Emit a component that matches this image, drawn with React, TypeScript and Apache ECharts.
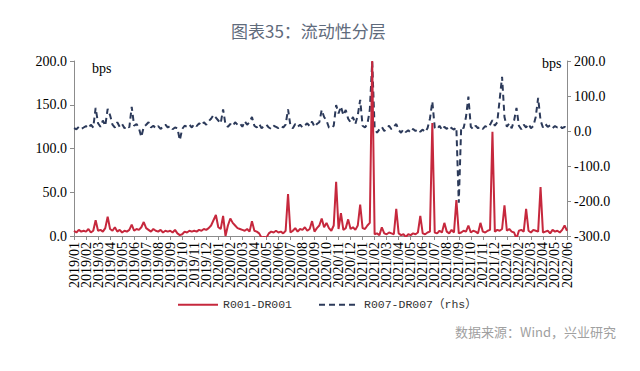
import React, { useEffect, useRef } from "react";
import * as echarts from "echarts";

const months: string[] = [
  "2019/01","2019/02","2019/03","2019/04","2019/05","2019/06","2019/07","2019/08","2019/09","2019/10","2019/11","2019/12",
  "2020/01","2020/02","2020/03","2020/04","2020/05","2020/06","2020/07","2020/08","2020/09","2020/10","2020/11","2020/12",
  "2021/01","2021/02","2021/03","2021/04","2021/05","2021/06","2021/07","2021/08","2021/09","2021/10","2021/11","2021/12",
  "2022/01","2022/02","2022/03","2022/04","2022/05","2022/06",
];
const pointsPerMonth = 5;

// R001-DR001 (bps), 5 readings per month
const r001: number[] = [
  6, 4, 7, 5, 6,
  5, 8, 4, 6, 18,
  6, 7, 5, 9, 22,
  8, 6, 10, 5, 7,
  4, 6, 5, 7, 13,
  6, 8, 7, 10, 16,
  9, 7, 5, 8, 6,
  5, 7, 4, 6, 5,
  6, 4, 7, 3, 1,
  2, 5, 4, 6, 5,
  6, 5, 7, 6, 8,
  7, 9, 12, 18, 24,
  10, 8, 23, 0, 12,
  20, 15, 12, 9, 8,
  7, 6, 8, 5, 17,
  6, 5, 3, -2, -1,
  -2, 3, 5, 4, 6,
  4, 5, 3, 6, 48,
  4, 6, 9, 5, 8,
  7, 10, 6, 8, 17,
  5, 9, 12, 20, 10,
  15, 9, 6, 12, 62,
  8, 26, 7, 9, 19,
  8, 10, 7, 12, 36,
  9, 8, 12, 15, 200,
  2, 3, 1, 10, 3,
  2, 4, 3, 2, 31,
  3, 1, 2, -1, 2,
  1, 3, 2, 4, 23,
  3, 2, 4, 5, 129,
  4, 3, 6, 4, 15,
  5, 3, 7, 4, 41,
  3, 4, 6, 5, 12,
  4, 6, 5, 3, 15,
  5, 4, 6, 7, 119,
  5, 7, 6, 8, 35,
  6, 8, 5, 4, -3,
  6, 7, 5, 31, 6,
  4, 7, 6, 5, 56,
  4, 5, 6, 3, 7,
  5, 6, 4, 7, 12,
  6,
];

// R007-DR007 (bps, rhs), 5 readings per month
const r007: number[] = [
  8, 5, 12, 6, 10,
  14, 8, 18, 10, 66,
  22, 12, 30, 15, 63,
  45, 18, 10, 25, 12,
  20, 8, 15, 10, 69,
  15, 20, 8, -17, 12,
  18, 25, 10, 15, 8,
  14, 6, 12, 18, 10,
  14, 5, 10, 8, -26,
  6, 15, 12, 18, 10,
  20, 14, 22, 16, 25,
  18, 28, 35, 46, 38,
  30, 22, 62, 18, 12,
  20, 14, 25, 18, 22,
  12, 28, 18, 25, 40,
  15, 10, 20, 8, 14,
  18, 10, 6, 15, 12,
  8, 14, 10, 18, 62,
  15, 8, 20, 12, 18,
  10, 16, 22, 14, 27,
  12, 20, 25, 60, 40,
  30, 10, 8, 15, 74,
  50, 70, 45, 60, 35,
  25, 40, 20, 45, 89,
  15, 10, 20, 60, 198,
  10, -5, 5, 12, 0,
  8, 15, 5, 12, 20,
  3, -5, 5, -3, 2,
  -4, 6, 0, 5, -2,
  4, -3, 8, 35, 84,
  10, 5, 15, 3, 12,
  6, 14, 8, 4, 10,
  -205, 12, 8, 40, 98,
  12, 5, 15, 8, 12,
  6, 14, 10, 18, 31,
  15, 25, 90, 155, 40,
  12, 22, 8, 30, 66,
  15, 5, 18, 10, 20,
  8, 14, 40, 95, 30,
  10, 20, 12, 16, 8,
  14, 10, 15, 8, 12,
  6,
];

const leftTicks = { min: 0, max: 200, interval: 50 };
const rightTicks = { min: -300, max: 200, interval: 100 };

const categories: string[] = r001.map((_, i) => {
  const m = Math.floor(i / pointsPerMonth);
  return `${months[m]}#${i % pointsPerMonth}`;
});

const SERIF = "'Liberation Serif', 'Times New Roman', serif";

export default function App() {
  const ref = useRef<HTMLDivElement>(null);
  useEffect(() => {
    document.body.style.margin = "0";
    if (!ref.current) return;
    const chart = echarts.init(ref.current, undefined, { renderer: "svg" });
    const showIdx = (index: number) => index % pointsPerMonth === 0;
    const baseGraphic: any[] = [
      {
        type: "text",
        left: 92,
        top: 61,
        style: { text: "bps", fontFamily: SERIF, fontSize: 14, fill: "#000" },
      },
      {
        type: "text",
        left: 542,
        top: 56,
        style: { text: "bps", fontFamily: SERIF, fontSize: 14, fill: "#000" },
      },
      {
        type: "text",
        right: 24,
        top: 325,
        style: {
          text: "数据来源：Wind，兴业研究",
          fontFamily: "'Noto Sans CJK SC', sans-serif",
          fontSize: 13,
          fill: "#a0a0a0",
        },
      },
    ];
    chart.setOption({
      animation: false,
      backgroundColor: "#ffffff",
      grid: { left: 74, right: 73, top: 61, bottom: 135, containLabel: false },
      title: {
        text: "图表35：流动性分层",
        left: 226,
        top: 17,
        textStyle: {
          fontFamily: "'Noto Sans CJK SC', sans-serif",
          fontSize: 17,
          fontWeight: "normal",
          color: "#5f6b7c",
        },
      },
      legend: {
        data: ["R001-DR001", "R007-DR007（rhs）"],
        left: 172,
        top: 294,
        itemWidth: 40,
        itemHeight: 14,
        itemGap: 26,
        itemStyle: { opacity: 0 },
        textStyle: {
          fontFamily: "'Liberation Mono', 'Noto Sans CJK SC', monospace",
          fontSize: 11.5,
          color: "#333",
        },
      },
      graphic: baseGraphic,
      xAxis: {
        type: "category",
        data: categories,
        boundaryGap: false,
        axisLine: { show: true, lineStyle: { color: "#8c8c8c", width: 1 } },
        axisTick: { show: true, interval: showIdx, length: 4, lineStyle: { color: "#8c8c8c" } },
        axisLabel: { show: false },
        splitLine: { show: false },
      },
      yAxis: [
        {
          type: "value",
          ...leftTicks,
          axisLine: { show: true, lineStyle: { color: "#8c8c8c" } },
          axisTick: { show: true, length: 4, lineStyle: { color: "#8c8c8c" } },
          axisLabel: {
            formatter: (v: number) => v.toFixed(1),
            fontFamily: SERIF,
            fontSize: 14,
            color: "#000",
            margin: 7,
          },
          splitLine: { show: false },
        },
        {
          type: "value",
          position: "right",
          ...rightTicks,
          axisLine: { show: true, lineStyle: { color: "#8c8c8c" } },
          axisTick: { show: true, length: 4, lineStyle: { color: "#8c8c8c" } },
          axisLabel: {
            formatter: (v: number) => v.toFixed(1),
            fontFamily: SERIF,
            fontSize: 14,
            color: "#000",
            margin: 7,
          },
          splitLine: { show: false },
        },
      ],
      series: [
        {
          name: "R007-DR007（rhs）",
          type: "line",
          yAxisIndex: 1,
          data: r007,
          symbol: "none",
          z: 2,
          lineStyle: { color: "#2c3a5a", width: 2, type: [6, 4] },
          itemStyle: { color: "#2c3a5a" },
        },
        {
          name: "R001-DR001",
          type: "line",
          yAxisIndex: 0,
          data: r001,
          symbol: "none",
          z: 3,
          lineStyle: { color: "#c6283d", width: 2 },
          itemStyle: { color: "#c6283d" },
        },
      ],
    });
    // month labels placed through the category axis scale
    const axisY = chart.convertToPixel({ yAxisIndex: 0 }, 0) as number;
    const monthLabels = months.map((label, m) => {
      const x = chart.convertToPixel({ xAxisIndex: 0 }, categories[m * pointsPerMonth]) as number;
      return {
        type: "text",
        x,
        y: axisY + 6,
        rotation: Math.PI / 2,
        style: {
          text: label,
          fontFamily: SERIF,
          fontSize: 14,
          fill: "#000",
          align: "right",
          verticalAlign: "middle",
        },
      };
    });
    chart.setOption({ graphic: baseGraphic.concat(monthLabels) });
    return () => chart.dispose();
  }, []);
  return <div ref={ref} style={{ width: 640, height: 371 }} />;
}
